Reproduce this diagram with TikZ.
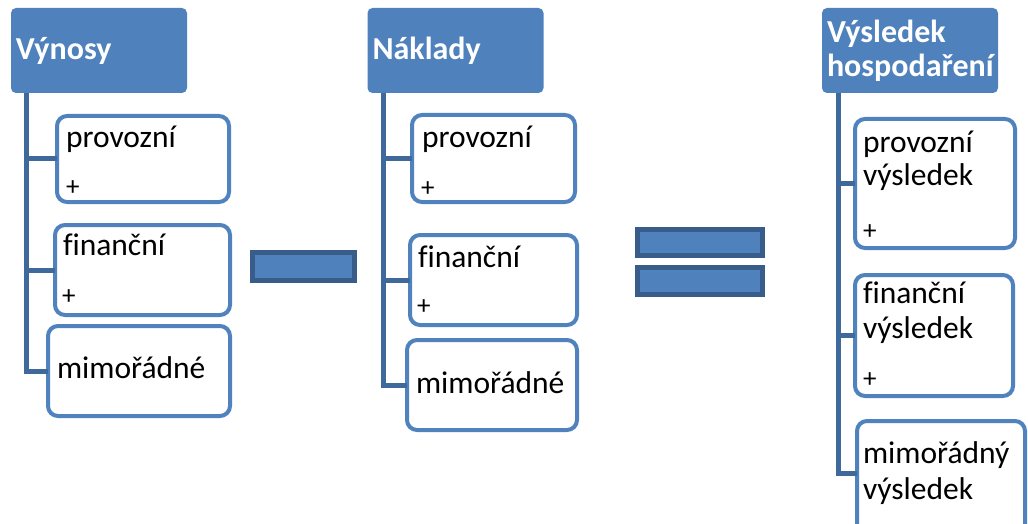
\documentclass[tikz,border=0pt]{standalone}
\usepackage{fontspec}
\setmainfont[Ligatures=NoCommon]{Carlito}

\begin{document}
\begin{tikzpicture}[x={(1pt,0pt)}, y={(0pt,-1pt)},
    inner sep=0pt, outer sep=0pt,%
    head/.style={fill=headblue, rounded corners=5pt, minimum width=176pt,
        minimum height=85pt, text width=166pt, align=left, text=white,
        font=\fontsize{32}{34}\bfseries\selectfont},
    item/.style={draw=itemblue, line width=4pt, rounded corners=10pt, fill=white},
    lbl/.style={anchor=base west, font=\fontsize{31.5}{34}\selectfont},
    plus/.style={anchor=base west, font=\fontsize{27}{30}\selectfont},
    conn/.style={draw=connblue, line width=5pt},
    bar/.style={draw=bardark, fill=headblue, line width=5pt},
]
    % Colors
    \definecolor{headblue}{HTML}{4F81BD}
    \definecolor{itemblue}{HTML}{5082BE}
    \definecolor{connblue}{HTML}{40699B}
    \definecolor{bardark}{HTML}{385D8A}

    \useasboundingbox (0,0) rectangle (1028,524);

    % Vynosy
    \coordinate (vT) at (26,93);
    \node[item, minimum width=172pt, minimum height=86pt] (v1) at (143,159) {};
    \node[item, minimum width=175pt, minimum height=90pt] (v2) at (142.5,270) {};
    \node[item, minimum width=182pt, minimum height=90pt] (v3) at (139,371) {};
    \draw[conn] (vT) |- (v1.west);
    \draw[conn] (vT) |- (v2.west);
    \draw[conn] (vT) |- (v3.west);
    \node[head] (v) at (99,50.5) {Výnosy};
    \node[lbl] (v1t) at (66,147) {provozní};
    \node[plus] (v1p) at (66,195) {+};
    \node[lbl] (v2t) at (63,255) {finanční};
    \node[plus] (v2p) at (62,304) {+};
    \node[lbl] (v3t) at (57,378) {mimořádné};

    % minus
    \node[bar, minimum width=102pt, minimum height=28pt] (minus) at (303.5,266.5) {};

    % Naklady
    \coordinate (nT) at (383,93);
    \node[item, minimum width=163pt, minimum height=87pt] (n1) at (493.5,158.5) {};
    \node[item, minimum width=167pt, minimum height=90pt] (n2) at (493.5,280) {};
    \node[item, minimum width=170pt, minimum height=90pt] (n3) at (492,385) {};
    \draw[conn] (nT) |- (n1.west);
    \draw[conn] (nT) |- (n2.west);
    \draw[conn] (nT) |- (n3.west);
    \node[head] (n) at (455.5,50.5) {Náklady};
    \node[lbl] (n1t) at (422,148) {provozní};
    \node[plus] (n1p) at (421,196) {+};
    \node[lbl] (n2t) at (418,267) {finanční};
    \node[plus] (n2p) at (417,314) {+};
    \node[lbl] (n3t) at (416,393) {mimořádné};

    % equals
    \node[bar, minimum width=125pt, minimum height=26pt] (eqA) at (700,242.5) {};
    \node[bar, minimum width=125pt, minimum height=27pt] (eqB) at (700,281) {};

    % Vysledek hospodareni
    \coordinate (hT) at (838,93);
    \node[item, minimum width=160pt, minimum height=129pt] (h1) at (935,183.5) {};
    \node[item, minimum width=158pt, minimum height=121pt] (h2) at (934,335.5) {};
    \node[item, minimum width=168pt, minimum height=124pt] (h3) at (941,483) {};
    \draw[conn] (hT) |- (h1.west);
    \draw[conn] (hT) |- (h2.west);
    \draw[conn] (hT) |- ([yshift=10pt]h3.west);
    \node[head] (h) at (910,50.5) {Výsledek\\hospodaření};
    \node[lbl] (h1a) at (863,153) {provozní};
    \node[lbl] (h1b) at (863,185) {výsledek};
    \node[plus] (h1p) at (863,239) {+};
    \node[lbl] (h2a) at (863,303) {finanční};
    \node[lbl] (h2b) at (863,338) {výsledek};
    \node[plus] (h2p) at (863,387) {+};
    \node[lbl] (h3a) at (863,463) {mimořádný};
    \node[lbl] (h3b) at (863,499) {výsledek};
\end{tikzpicture}
\end{document}
